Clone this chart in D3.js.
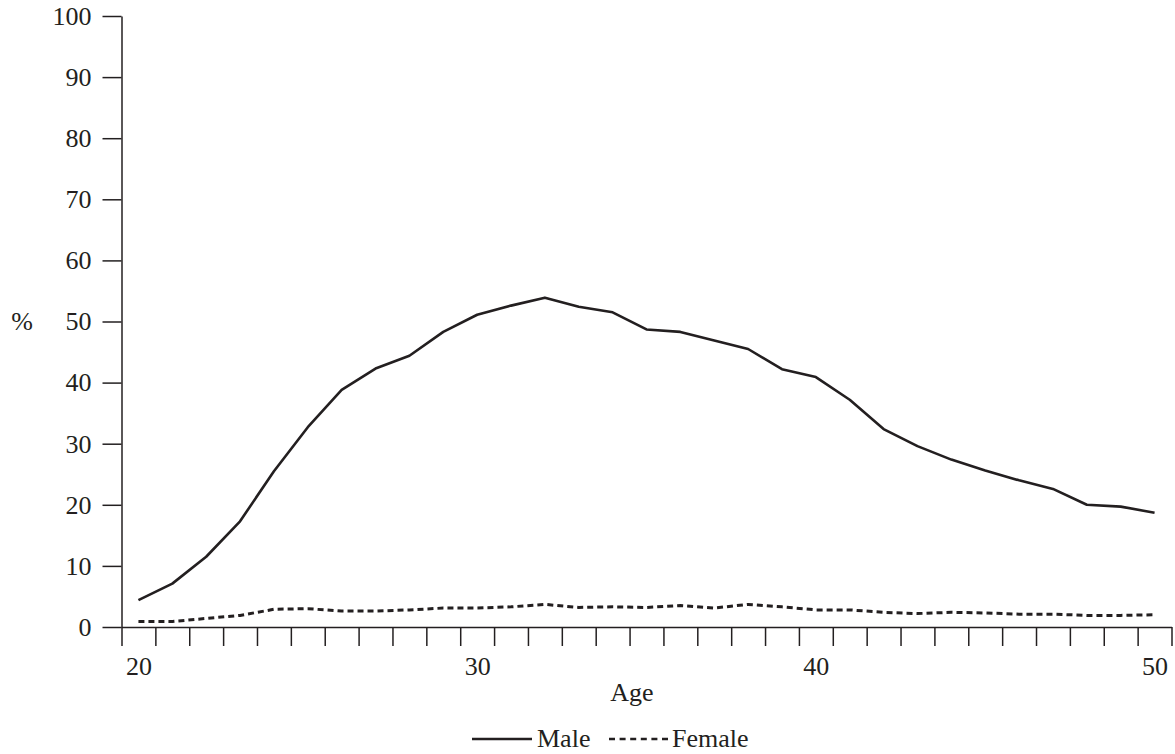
<!DOCTYPE html>
<html>
<head>
<meta charset="utf-8">
<script src="https://cdn.jsdelivr.net/npm/d3@7"></script>
<style>
  body { margin: 0; background: #fff; }
  svg { display: block; }
  .axis path, .axis line { stroke: #231f20; stroke-width: 1.5px; }
  .axis text { font-family: "Liberation Serif", "Times New Roman", serif; font-size: 26px; fill: #231f20; }
  .lbl { font-family: "Liberation Serif", "Times New Roman", serif; font-size: 26px; fill: #231f20; }
</style>
</head>
<body>
<div id="chart-area"></div>
<script>
// data
var ages = d3.range(20, 51);
var male = [4.4, 7.1, 11.5, 17.3, 25.5, 32.7, 38.8, 42.3, 44.4, 48.3,
            51.1, 52.6, 53.9, 52.4, 51.5, 48.7, 48.3, 46.9, 45.5, 42.2,
            40.9, 37.2, 32.4, 29.6, 27.4, 25.6, 24.0, 22.6, 20.0, 19.7, 18.7];
var female = [0.9, 0.9, 1.4, 1.9, 2.9, 3.0, 2.6, 2.6, 2.8, 3.1,
              3.1, 3.3, 3.7, 3.2, 3.3, 3.2, 3.5, 3.1, 3.7, 3.3,
              2.8, 2.8, 2.4, 2.2, 2.4, 2.3, 2.1, 2.1, 1.9, 1.9, 2.0];
var yTicks = d3.range(0, 101, 10);
var xLabels = [20, 30, 40, 50];
var xTicks = d3.range(19.5, 51, 1);

var W = 1175, H = 754;
var plotLeft = 121.5, plotRight = 1171.5, plotTop = 16, plotBottom = 627;

var svg = d3.select("#chart-area")
  .append("svg")
    .attr("width", W)
    .attr("height", H);

//scales
var x = d3.scaleLinear().domain([19.5, 50.5]).range([plotLeft, plotRight]);
var y = d3.scaleLinear().domain([0, 100]).range([plotBottom, plotTop]);

//y axis
svg.append("g")
  .attr("class", "axis")
  .attr("transform", "translate(" + plotLeft + ",0)")
  .call(d3.axisLeft(y).tickValues(yTicks).tickSize(19).tickSizeOuter(0).tickPadding(11));

//x axis ticks (between ages)
svg.append("g")
  .attr("class", "axis")
  .attr("transform", "translate(0," + plotBottom + ")")
  .call(d3.axisBottom(x).tickValues(xTicks).tickSize(19).tickSizeOuter(0).tickFormat(""));

//x axis labels
var xl = svg.append("g")
  .attr("class", "axis")
  .attr("transform", "translate(0," + plotBottom + ")")
  .call(d3.axisBottom(x).tickValues(xLabels).tickSize(0).tickPadding(30).tickFormat(d3.format("d")));
xl.select(".domain").remove();

//axis titles
svg.append("text")
  .attr("class", "lbl")
  .attr("x", 22).attr("y", y(50))
  .attr("dy", "0.32em")
  .attr("text-anchor", "middle")
  .text("%");
svg.append("text")
  .attr("class", "lbl")
  .attr("x", 632).attr("y", 701)
  .attr("text-anchor", "middle")
  .text("Age");

//lines
var line = d3.line()
  .x(function(d, i) { return x(ages[i]); })
  .y(function(d) { return y(d); });

svg.append("path")
  .attr("fill", "none")
  .attr("stroke", "#231f20")
  .attr("stroke-width", 2.6)
  .attr("stroke-linejoin", "round")
  .attr("d", line(male));

svg.append("path")
  .attr("fill", "none")
  .attr("stroke", "#231f20")
  .attr("stroke-width", 3)
  .attr("stroke-dasharray", "6,4")
  .attr("d", line(female));

//legend
var lg = svg.append("g");
lg.append("line")
  .attr("x1", 472).attr("x2", 532).attr("y1", 739).attr("y2", 739)
  .attr("stroke", "#231f20").attr("stroke-width", 2.6);
lg.append("text").attr("class", "lbl").attr("x", 537).attr("y", 747).text("Male");
lg.append("line")
  .attr("x1", 609).attr("x2", 668).attr("y1", 739).attr("y2", 739)
  .attr("stroke", "#231f20").attr("stroke-width", 2.6)
  .attr("stroke-dasharray", "6,4.6");
lg.append("text").attr("class", "lbl").attr("x", 672).attr("y", 747).text("Female");
</script>
</body>
</html>
